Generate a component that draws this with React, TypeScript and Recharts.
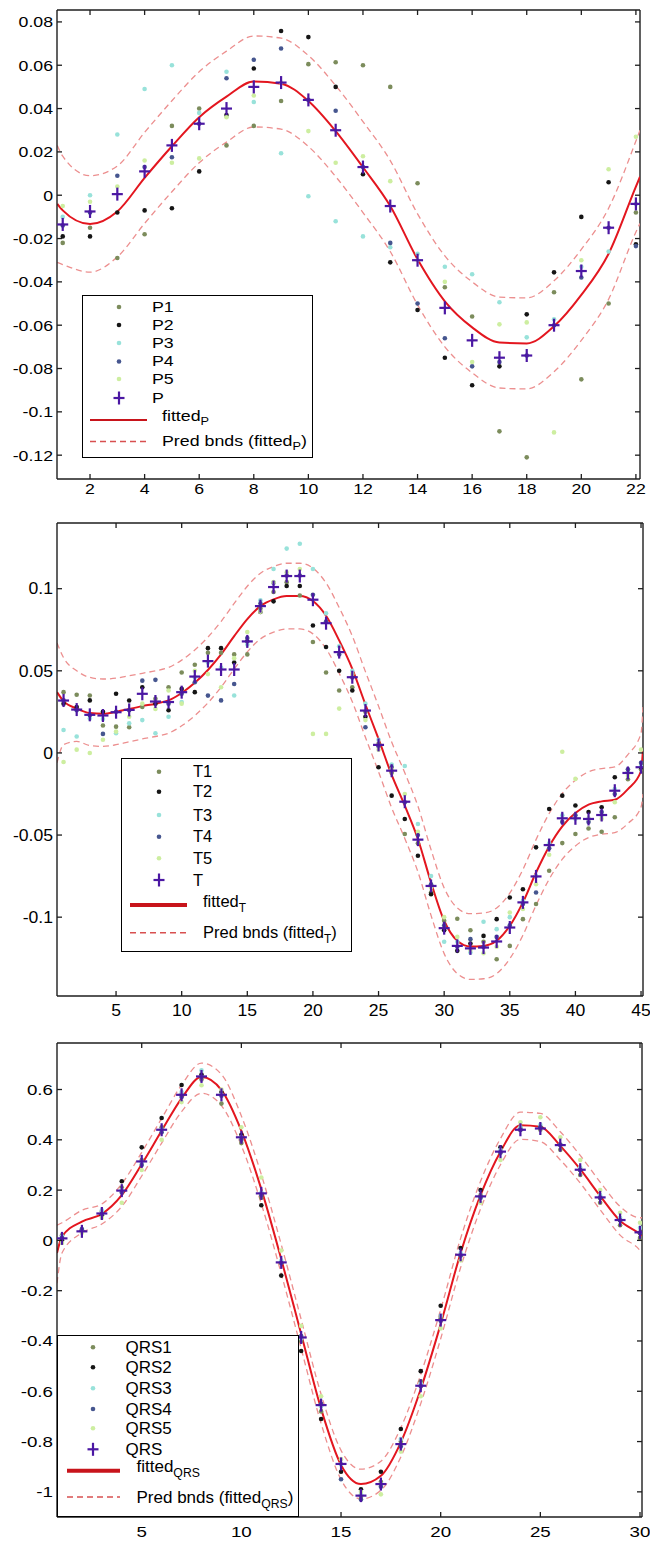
import React from 'react';
import { ComposedChart, Scatter, Line, XAxis, YAxis, Legend, ReferenceLine } from 'recharts';

const FONT = '"Liberation Sans", Arial, Helvetica, sans-serif';
const AXIS = '#1e1e1e';
const DOT_COLORS = ['#7c8c5c', '#151515', '#98e2da', '#46568f', '#cdeea0'];
const PLUS = '#4b17a3';
const FIT = '#e3161f';
const FIT_LEG = '#c8141b';
const BND = '#ec8f8f';
const BND_LEG = '#d85050';

// ---------------- Panel 1 : P ----------------
const pXs = [1, 2, 3, 4, 5, 6, 7, 8, 9, 10, 11, 12, 13, 14, 15, 16, 17, 18, 19, 20, 21, 22];
const pS1 = [-0.022, -0.015, -0.029, -0.018, 0.032, 0.04, 0.023, 0.032, 0.0435, 0.0605, 0.0614, 0.06, 0.05, 0.0055, -0.0425, -0.056, -0.109, -0.121, -0.0448, -0.085, -0.05, -0.008];
const pS2 = [-0.019, -0.019, -0.008, -0.007, -0.006, 0.011, 0.037, 0.0585, 0.0758, 0.073, 0.05, 0.0097, -0.031, -0.053, -0.075, -0.0877, -0.079, -0.055, -0.0356, -0.01, 0.006, -0.0226];
const pS3 = [-0.01, 0.0, 0.028, 0.049, 0.06, 0.038, 0.057, 0.043, 0.0194, -0.0005, -0.012, -0.019, -0.024, -0.027, -0.033, -0.0365, -0.0494, -0.0656, -0.0573, -0.033, -0.026, -0.004];
const pS4 = [-0.014, -0.008, 0.009, 0.013, 0.0175, 0.033, 0.054, 0.0625, 0.0677, 0.044, 0.039, 0.013, -0.022, -0.05, -0.066, -0.079, -0.077, -0.074, -0.06, -0.038, -0.015, -0.0235];
const pS5 = [-0.005, -0.003, 0.004, 0.016, 0.015, 0.017, 0.036, 0.046, 0.052, 0.0296, 0.015, 0.018, 0.0065, -0.03, -0.04, -0.077, -0.0596, -0.0587, -0.1095, -0.03, 0.012, 0.027];
const pMain = [-0.0135, -0.0075, 0.0005, 0.011, 0.023, 0.033, 0.04, 0.05, 0.052, 0.044, 0.03, 0.013, -0.005, -0.03, -0.052, -0.067, -0.075, -0.074, -0.06, -0.035, -0.015, -0.004];
const pFitX = [0.8, 1, 2, 3, 4, 5, 6, 7, 8, 9, 10, 11, 12, 13, 14, 15, 16, 17, 18, 19, 20, 21, 22, 22.15];
const pFit = [-0.004, -0.007, -0.0133, -0.0075, 0.008, 0.0226, 0.036, 0.0455, 0.0525, 0.0515, 0.0435, 0.0296, 0.0129, -0.005, -0.0296, -0.049, -0.061, -0.068, -0.0684, -0.0605, -0.046, -0.027, 0.004, 0.0085];
const pUp = [0.023, 0.018, 0.009, 0.0135, 0.029, 0.0436, 0.057, 0.0665, 0.0735, 0.0725, 0.0645, 0.0506, 0.034, 0.016, -0.0086, -0.028, -0.04, -0.047, -0.0474, -0.0395, -0.025, -0.006, 0.025, 0.03];
const pLo = [-0.031, -0.032, -0.0355, -0.0285, -0.013, 0.0016, 0.015, 0.0245, 0.0315, 0.0305, 0.0225, 0.0086, -0.008, -0.026, -0.0506, -0.07, -0.082, -0.089, -0.0894, -0.0815, -0.067, -0.048, -0.017, -0.013];
const pXTicks = [2, 4, 6, 8, 10, 12, 14, 16, 18, 20, 22];
const pYTicks = [-0.12, -0.1, -0.08, -0.06, -0.04, -0.02, 0, 0.02, 0.04, 0.06, 0.08];
const pNames = ['P1', 'P2', 'P3', 'P4', 'P5'];

// ---------------- Panel 2 : T ----------------
const tXs = [1, 2, 3, 4, 5, 6, 7, 8, 9, 10, 11, 12, 13, 14, 15, 16, 17, 18, 19, 20, 21, 22, 23, 24, 25, 26, 27, 28, 29, 30, 31, 32, 33, 34, 35, 36, 37, 38, 39, 40, 41, 42, 43, 44, 45];
const tS1 = [0.037, 0.0354, 0.035, 0.0167, 0.016, 0.0156, 0.028, 0.033, 0.04, 0.049, 0.0537, 0.061, 0.061, 0.06, 0.06, 0.088, 0.098, 0.104, 0.0959, 0.0675, 0.049, 0.038, 0.04, 0.025, 0.0055, -0.012, -0.0494, -0.055, -0.085, -0.1022, -0.101, -0.108, -0.115, -0.1256, -0.1175, -0.1012, -0.092, -0.0717, -0.0549, -0.0494, -0.046, -0.048, -0.0392, -0.016, -0.01];
const tS2 = [0.03, 0.0279, 0.032, 0.025, 0.036, 0.0319, 0.04, 0.03, 0.026, 0.039, 0.037, 0.0638, 0.0638, 0.055, 0.068, 0.0858, 0.0923, 0.1016, 0.1016, 0.0776, 0.0645, 0.05, 0.038, 0.022, -0.0087, -0.026, -0.0402, -0.0626, -0.086, -0.108, -0.1205, -0.116, -0.1114, -0.1012, -0.088, -0.083, -0.0575, -0.0341, -0.026, -0.032, -0.036, -0.0331, -0.0148, -0.0118, -0.0087];
const tS3 = [0.014, 0.01, 0.021, 0.0207, 0.012, 0.018, 0.02, 0.012, 0.022, 0.031, 0.046, 0.055, 0.052, 0.035, 0.066, 0.0929, 0.112, 0.1244, 0.1274, 0.112, 0.085, 0.065, 0.05, 0.03, 0.008, -0.007, -0.008, -0.0433, -0.075, -0.115, -0.115, -0.1215, -0.1028, -0.1073, -0.1, -0.09, -0.075, -0.055, -0.038, -0.04, -0.04, -0.038, -0.022, -0.012, -0.008];
const tS4 = [0.032, 0.026, 0.023, 0.0116, 0.025, 0.026, 0.044, 0.0445, 0.03, 0.036, 0.043, 0.0349, 0.032, 0.042, 0.07, 0.091, 0.1036, 0.108, 0.108, 0.0963, 0.08, 0.06, 0.046, 0.0156, 0.004, -0.0087, -0.03, -0.05, -0.08, -0.105, -0.118, -0.1134, -0.118, -0.112, -0.105, -0.092, -0.085, -0.058, -0.042, -0.038, -0.042, -0.036, -0.025, -0.01, -0.006];
const tS5 = [-0.0055, 0.002, 0.0, 0.008, 0.013, 0.022, 0.03, 0.0268, 0.038, 0.03, 0.05, 0.048, 0.04, 0.0577, 0.0736, 0.086, 0.104, 0.11, 0.112, 0.0116, 0.0116, 0.027, 0.048, 0.02, 0.002, -0.01, -0.025, -0.048, -0.082, -0.1, -0.112, -0.12, -0.122, -0.118, -0.0972, -0.095, -0.08, -0.062, 0.0007, -0.0158, -0.04, -0.04, -0.03, -0.014, 0.002];
const tMain = [0.0319, 0.0264, 0.0232, 0.0228, 0.0248, 0.0262, 0.036, 0.0313, 0.031, 0.037, 0.0465, 0.0559, 0.0508, 0.0508, 0.0679, 0.0894, 0.101, 0.1077, 0.1077, 0.0933, 0.079, 0.0614, 0.0461, 0.0258, 0.0049, -0.0108, -0.0297, -0.0528, -0.081, -0.1067, -0.1175, -0.119, -0.1185, -0.1148, -0.1063, -0.091, -0.0752, -0.0561, -0.0398, -0.0398, -0.0402, -0.0378, -0.023, -0.0122, -0.0087];
const tFitX = [0.5, 1, 2, 3, 4, 5, 6, 7, 8, 9, 10, 11, 12, 13, 14, 15, 16, 17, 18, 19, 20, 21, 22, 23, 24, 25, 26, 27, 28, 29, 30, 31, 32, 33, 34, 35, 36, 37, 38, 39, 40, 41, 42, 43, 44, 45, 45.15];
const tFit = [0.037, 0.0315, 0.027, 0.0243, 0.0238, 0.025, 0.0268, 0.0285, 0.03, 0.032, 0.0365, 0.0427, 0.0505, 0.06, 0.0711, 0.0815, 0.0894, 0.0935, 0.0955, 0.0955, 0.0925, 0.0835, 0.0685, 0.0512, 0.0295, 0.0085, -0.0134, -0.0321, -0.0524, -0.0789, -0.1022, -0.1144, -0.1179, -0.1175, -0.1144, -0.1053, -0.091, -0.0728, -0.0569, -0.0447, -0.0366, -0.0315, -0.0295, -0.0285, -0.022, -0.011, 0.002];
const tUp = [0.067, 0.058, 0.05, 0.046, 0.045, 0.0455, 0.047, 0.0485, 0.05, 0.052, 0.0565, 0.0627, 0.0705, 0.08, 0.091, 0.1015, 0.1094, 0.1135, 0.1155, 0.1155, 0.1125, 0.1035, 0.0885, 0.0712, 0.0495, 0.0285, 0.0066, -0.0121, -0.0324, -0.0589, -0.0822, -0.0944, -0.0979, -0.0975, -0.0944, -0.0853, -0.071, -0.0528, -0.0369, -0.0247, -0.0166, -0.0115, -0.0095, -0.0085, -0.001, 0.012, 0.028];
const tLo = [-0.006, 0.005, 0.007, 0.0045, 0.004, 0.005, 0.0068, 0.0085, 0.01, 0.012, 0.0165, 0.0227, 0.0305, 0.04, 0.0511, 0.0615, 0.0694, 0.0735, 0.0755, 0.0755, 0.0725, 0.0635, 0.0485, 0.0312, 0.0095, -0.0115, -0.0334, -0.0521, -0.0724, -0.0989, -0.1222, -0.1344, -0.1379, -0.1375, -0.1344, -0.1253, -0.111, -0.0928, -0.0769, -0.0647, -0.0566, -0.0515, -0.0495, -0.0485, -0.043, -0.033, -0.025];
const tXTicks = [5, 10, 15, 20, 25, 30, 35, 40, 45];
const tYTicks = [-0.1, -0.05, 0, 0.05, 0.1];
const tNames = ['T1', 'T2', 'T3', 'T4', 'T5'];

// ---------------- Panel 3 : QRS ----------------
const qXs = [1, 2, 3, 4, 5, 6, 7, 8, 9, 10, 11, 12, 13, 14, 15, 16, 17, 18, 19, 20, 21, 22, 23, 24, 25, 26, 27, 28, 29, 30];
const qS1 = [0.02, 0.04, 0.115, 0.21, 0.32, 0.45, 0.58, 0.64, 0.544, 0.387, 0.17, -0.09, -0.4, -0.68, -0.89, -1.02, -0.96, -0.8, -0.56, -0.31, -0.06, 0.18, 0.35, 0.45, 0.44, 0.36, 0.26, 0.15, 0.06, 0.01];
const qS2 = [0.0, 0.04, 0.1, 0.235, 0.37, 0.487, 0.618, 0.66, 0.59, 0.42, 0.14, -0.14, -0.44, -0.71, -0.92, -0.99, -0.92, -0.75, -0.52, -0.26, -0.03, 0.2, 0.37, 0.44, 0.45, 0.38, 0.28, 0.17, 0.08, 0.03];
const qS3 = [0.015, 0.035, 0.12, 0.2, 0.31, 0.44, 0.59, 0.676, 0.58, 0.41, 0.19, -0.08, -0.39, -0.66, -0.89, -1.01, -0.97, -0.79, -0.57, -0.3, -0.05, 0.17, 0.36, 0.45, 0.46, 0.38, 0.29, 0.18, 0.09, 0.05];
const qS4 = [0.01, 0.045, 0.105, 0.19, 0.3, 0.43, 0.57, 0.65, 0.575, 0.4, 0.18, -0.09, -0.38, -0.65, -0.95, -1.03, -0.98, -0.82, -0.58, -0.32, -0.06, 0.17, 0.35, 0.44, 0.45, 0.38, 0.28, 0.17, 0.08, 0.03];
const qS5 = [-0.01, 0.03, 0.09, 0.15, 0.28, 0.4, 0.55, 0.617, 0.6, 0.45, 0.25, -0.04, -0.34, -0.62, -0.87, -1.0, -1.01, -0.84, -0.62, -0.35, -0.08, 0.15, 0.32, 0.47, 0.49, 0.41, 0.32, 0.2, 0.11, 0.07];
const qMain = [0.008, 0.036, 0.107, 0.198, 0.314, 0.44, 0.579, 0.652, 0.579, 0.41, 0.187, -0.0875, -0.386, -0.655, -0.889, -1.015, -0.969, -0.81, -0.578, -0.317, -0.057, 0.175, 0.353, 0.44, 0.445, 0.379, 0.281, 0.171, 0.081, 0.032];
const qFitX = [0.75, 1, 2, 3, 4, 5, 6, 7, 8, 9, 10, 11, 12, 13, 14, 15, 16, 17, 18, 19, 20, 21, 22, 23, 24, 25, 26, 27, 28, 29, 30, 30.1];
const qFit = [-0.05, 0.015, 0.075, 0.105, 0.18, 0.303, 0.436, 0.565, 0.65, 0.598, 0.436, 0.204, -0.074, -0.372, -0.67, -0.893, -0.969, -0.936, -0.803, -0.591, -0.333, -0.05, 0.18, 0.353, 0.458, 0.452, 0.376, 0.283, 0.177, 0.078, 0.025, 0.018];
const qUp = [0.06, 0.07, 0.12, 0.145, 0.225, 0.35, 0.485, 0.618, 0.705, 0.66, 0.495, 0.262, -0.016, -0.314, -0.612, -0.835, -0.91, -0.878, -0.745, -0.533, -0.275, 0.008, 0.235, 0.405, 0.51, 0.505, 0.432, 0.338, 0.232, 0.135, 0.09, 0.09];
const qLo = [-0.17, -0.05, 0.03, 0.065, 0.135, 0.256, 0.387, 0.512, 0.585, 0.536, 0.377, 0.146, -0.132, -0.43, -0.728, -0.951, -1.028, -0.994, -0.861, -0.649, -0.391, -0.108, 0.125, 0.301, 0.402, 0.393, 0.32, 0.228, 0.122, 0.021, -0.04, -0.05];
const qXTicks = [5, 10, 15, 20, 25, 30];
const qYTicks = [-1, -0.8, -0.6, -0.4, -0.2, 0, 0.2, 0.4, 0.6];
const qNames = ['QRS1', 'QRS2', 'QRS3', 'QRS4', 'QRS5'];

const toRows = (xs: number[], ys: number[]) => xs.map((x, i) => ({ x, y: ys[i] }));

type LegendCfg = {
  left: number; top: number; w: number; h: number; fs: number; sx: number;
  rows: number[]; markX: number; textX: number; fitTextX: number; lineX1: number; lineX2: number;
  names: string[]; mainName: string; sub: string; fitLineW: number;
};

type PanelCfg = {
  top: number; height: number; margin: { top: number; right: number; bottom: number; left: number };
  xH: number; xDom: [number, number]; yDom: [number, number]; xTicks: number[]; yTicks: number[];
  xTickMargin: number; tickFs: number; tickSx: number;
  xs: number[]; series: number[][]; main: number[];
  fitX: number[]; fit: number[]; up: number[]; lo: number[];
  legend: LegendCfg;
};

const panels: PanelCfg[] = [
  {
    top: 0, height: 500, margin: { top: 10, right: 10, bottom: 0, left: 0 }, xH: 21,
    xDom: [0.79, 22.15], yDom: [-0.131, 0.0855], xTicks: pXTicks, yTicks: pYTicks,
    xTickMargin: 4, tickFs: 15, tickSx: 1.18,
    xs: pXs, series: [pS1, pS2, pS3, pS4, pS5], main: pMain,
    fitX: pFitX, fit: pFit, up: pUp, lo: pLo,
    legend: {
      left: 82, top: 295, w: 231, h: 163, fs: 14, sx: 1.27,
      rows: [12, 30, 48, 66.5, 84, 103, 125, 146.5], markX: 37, textX: 70, fitTextX: 80, lineX1: 8, lineX2: 65,
      names: pNames, mainName: 'P', sub: 'P', fitLineW: 2,
    },
  },
  {
    top: 500, height: 520, margin: { top: 23, right: 7, bottom: 0, left: 0 }, xH: 24,
    xDom: [0.5, 45.15], yDom: [-0.148, 0.14], xTicks: tXTicks, yTicks: tYTicks,
    xTickMargin: 8, tickFs: 16, tickSx: 1.1,
    xs: tXs, series: [tS1, tS2, tS3, tS4, tS5], main: tMain,
    fitX: tFitX, fit: tFit, up: tUp, lo: tLo,
    legend: {
      left: 121, top: 258, w: 231, h: 194, fs: 17, sx: 0.97,
      rows: [13.7, 33.7, 57, 78.7, 100.3, 122, 147, 174.7], markX: 38, textX: 72, fitTextX: 82, lineX1: 9, lineX2: 66,
      names: tNames, mainName: 'T', sub: 'T', fitLineW: 4,
    },
  },
  {
    top: 1020, height: 521, margin: { top: 23, right: 8, bottom: 0, left: 0 }, xH: 24,
    xDom: [0.75, 30.1], yDom: [-1.1, 0.785], xTicks: qXTicks, yTicks: qYTicks,
    xTickMargin: 9, tickFs: 15, tickSx: 1.25,
    xs: qXs, series: [qS1, qS2, qS3, qS4, qS5], main: qMain,
    fitX: qFitX, fit: qFit, up: qUp, lo: qLo,
    legend: {
      left: 57, top: 315, w: 242, h: 182, fs: 17, sx: 1.0,
      rows: [12.3, 32.3, 53.3, 74, 93.3, 114.3, 135.7, 162], markX: 36, textX: 69, fitTextX: 80, lineX1: 10, lineX2: 63,
      names: qNames, mainName: 'QRS', sub: 'QRS', fitLineW: 4,
    },
  },
];

const dotShape = (color: string) => (props: any) => {
  const { cx, cy } = props;
  if (cx == null || cy == null) return <g />;
  return <circle cx={cx} cy={cy} r={2.3} fill={color} />;
};

const plusShape = (props: any) => {
  const { cx, cy } = props;
  if (cx == null || cy == null) return <g />;
  return (
    <g stroke={PLUS} strokeWidth={2.2}>
      <line x1={cx - 5.5} y1={cy} x2={cx + 5.5} y2={cy} />
      <line x1={cx} y1={cy - 6.5} x2={cx} y2={cy + 6.5} />
    </g>
  );
};

function LegendBox({ c }: { c: LegendCfg }) {
  const b = 1.5;
  const textStyle = (x: number, y: number): React.CSSProperties => ({
    position: 'absolute', left: x - b, top: y - b, transform: `translateY(-50%) scaleX(${c.sx})`,
    transformOrigin: '0 50%', fontSize: c.fs, lineHeight: 1, whiteSpace: 'nowrap', fontFamily: FONT, color: '#000',
  });
  const subStyle: React.CSSProperties = { fontSize: '0.72em', position: 'relative', top: '0.42em' };
  const r = c.rows;
  return (
    <div style={{ position: 'relative', width: c.w, height: c.h, background: '#fff', border: `${b}px solid #000`, boxSizing: 'border-box', overflow: 'hidden' }}>
      <svg width={c.w} height={c.h} style={{ position: 'absolute', left: -b, top: -b }}>
        {c.names.map((n, i) => <circle key={n} cx={c.markX} cy={r[i]} r={2.3} fill={DOT_COLORS[i]} />)}
        <g stroke={PLUS} strokeWidth={2.2}>
          <line x1={c.markX - 5.5} y1={r[5]} x2={c.markX + 5.5} y2={r[5]} />
          <line x1={c.markX} y1={r[5] - 6.5} x2={c.markX} y2={r[5] + 6.5} />
        </g>
        <line x1={c.lineX1} x2={c.lineX2} y1={r[6]} y2={r[6]} stroke={FIT_LEG} strokeWidth={c.fitLineW} />
        <line x1={c.lineX1} x2={c.lineX2} y1={r[7]} y2={r[7]} stroke={BND_LEG} strokeWidth={1.4} strokeDasharray="6 4" />
      </svg>
      {c.names.map((n, i) => <div key={n} style={textStyle(c.textX, r[i])}>{n}</div>)}
      <div style={textStyle(c.textX, r[5])}>{c.mainName}</div>
      <div style={textStyle(c.fitTextX, r[6] - 4)}>fitted<span style={subStyle}>{c.sub}</span></div>
      <div style={textStyle(c.fitTextX, r[7])}>Pred bnds (fitted<span style={subStyle}>{c.sub}</span>)</div>
    </div>
  );
}

function Panel({ c }: { c: PanelCfg }) {
  const ax = { stroke: AXIS, strokeWidth: 1.4 };
  const TL = 5;
  const plotTop = c.margin.top;
  const plotRight = 650 - c.margin.right;
  // x tick: label + inward tick marks at bottom and top
  const xTickR = (p: any) => {
    const axisY = p.y - c.xTickMargin;
    return (
      <g>
        <line x1={p.x} x2={p.x} y1={axisY} y2={axisY - TL} stroke={AXIS} strokeWidth={1.3} />
        <line x1={p.x} x2={p.x} y1={plotTop} y2={plotTop + TL} stroke={AXIS} strokeWidth={1.3} />
        <text transform={`translate(${p.x},${p.y}) scale(${c.tickSx},1)`} textAnchor="middle" dy="0.72em"
          fontSize={c.tickFs} fontFamily={FONT} fill="#000">{String(p.payload.value)}</text>
      </g>
    );
  };
  // y tick: label + inward tick marks at left and right
  const yTickR = (p: any) => {
    const axisX = p.x + 4;
    return (
      <g>
        <line x1={axisX} x2={axisX + TL} y1={p.y} y2={p.y} stroke={AXIS} strokeWidth={1.3} />
        <line x1={plotRight} x2={plotRight - TL} y1={p.y} y2={p.y} stroke={AXIS} strokeWidth={1.3} />
        <text transform={`translate(${p.x},${p.y}) scale(${c.tickSx},1)`} textAnchor="end" dy="0.36em"
          fontSize={c.tickFs} fontFamily={FONT} fill="#000">{String(p.payload.value)}</text>
      </g>
    );
  };
  return (
    <ComposedChart width={650} height={c.height} margin={c.margin}>
      <XAxis xAxisId="b" dataKey="x" type="number" allowDataOverflow interval={0} domain={c.xDom} ticks={c.xTicks}
        tickLine={false} tickSize={0} tickMargin={c.xTickMargin} height={c.xH} axisLine={ax} tick={xTickR} />
      <YAxis yAxisId="l" dataKey="y" type="number" allowDataOverflow interval={0} domain={c.yDom} ticks={c.yTicks}
        tickLine={false} tickSize={0} tickMargin={4} width={57} axisLine={ax} tick={yTickR} />
      <ReferenceLine xAxisId="b" yAxisId="l" y={c.yDom[1]} stroke={AXIS} strokeWidth={1.4} />
      <ReferenceLine xAxisId="b" yAxisId="l" x={c.xDom[1]} stroke={AXIS} strokeWidth={1.4} />
      <Line xAxisId="b" yAxisId="l" data={toRows(c.fitX, c.up)} dataKey="y" type="monotone" dot={false}
        stroke={BND} strokeWidth={1.3} strokeDasharray="6 4" isAnimationActive={false} />
      <Line xAxisId="b" yAxisId="l" data={toRows(c.fitX, c.lo)} dataKey="y" type="monotone" dot={false}
        stroke={BND} strokeWidth={1.3} strokeDasharray="6 4" isAnimationActive={false} />
      <Line xAxisId="b" yAxisId="l" data={toRows(c.fitX, c.fit)} dataKey="y" type="monotone" dot={false}
        stroke={FIT} strokeWidth={2} isAnimationActive={false} />
      {c.series.map((s, i) => (
        <Scatter key={i} xAxisId="b" yAxisId="l" data={toRows(c.xs, s)} dataKey="y"
          shape={dotShape(DOT_COLORS[i])} isAnimationActive={false} />
      ))}
      <Scatter xAxisId="b" yAxisId="l" data={toRows(c.xs, c.main)} dataKey="y" shape={plusShape} isAnimationActive={false} />
      <Legend content={() => <LegendBox c={c.legend} />} layout="vertical" align="center" verticalAlign="middle"
        wrapperStyle={{ position: 'absolute', left: c.legend.left, top: c.legend.top, width: c.legend.w, height: c.legend.h, margin: 0, padding: 0 }} />
    </ComposedChart>
  );
}

export default function App() {
  return (
    <div style={{ position: 'absolute', left: 0, top: 0, width: 650, height: 1541, background: '#fff', fontFamily: FONT }}>
      {panels.map((c, i) => (
        <div key={i} style={{ position: 'absolute', left: 0, top: c.top, width: 650, height: c.height }}>
          <Panel c={c} />
        </div>
      ))}
    </div>
  );
}
